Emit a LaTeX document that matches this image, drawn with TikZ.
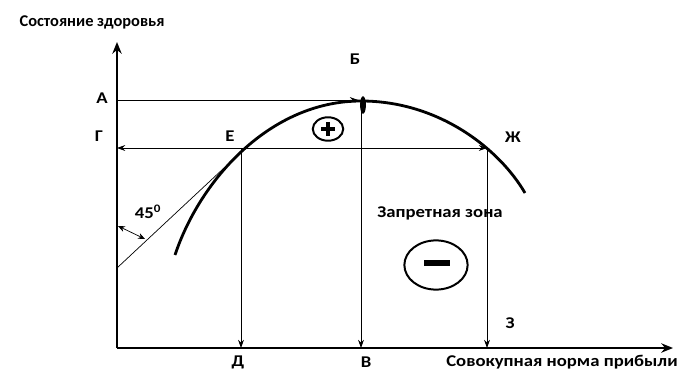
\documentclass[tikz,border=0pt]{standalone}
\usepackage{fontspec}
\setmainfont{Carlito}
\usetikzlibrary{positioning,arrows.meta}
\tikzset{
  lbl/.style={font=\bfseries\fontsize{14}{16}\selectfont,inner sep=0,xscale=1.14},
  ttl/.style={font=\bfseries\fontsize{14}{16}\selectfont,inner sep=0},
  axis/.style={line width=2.2pt,-{Stealth[length=10pt,width=8pt]}},
  thin/.style={line width=0.6pt},
}
\newcommand{\mpt}[3]{\coordinate (#3) at (#1,#2);}% x, y, name

\begin{document}
\begin{tikzpicture}[>={Stealth[length=7pt,width=5pt]},x=0.03cm,y=-0.03cm]
  \useasboundingbox (0,0) rectangle (678,371);
  % points
  \mpt{117}{348}{O}\mpt{117}{42}{ytop}\mpt{673}{348}{xend}
  \mpt{117}{100}{A}\mpt{358}{100}{B}\mpt{361}{101}{Btop}
  \mpt{117}{148}{G}\mpt{241}{148}{E}\mpt{487}{148}{Zh}
  \mpt{241}{348}{D}\mpt{361}{348}{V}\mpt{487}{348}{Z}
  \mpt{117}{268}{t0}\mpt{224}{168}{t1}
  \mpt{118}{226}{a0}\mpt{145}{239}{a1}
  % labels
  \node[ttl] (lS) at (92,22) {Состояние здоровья};
  \node[lbl] (lA) at (102,98) {А};
  \node[lbl] (lB) at (355,59) {Б};
  \node[lbl] (lG) at (99,136) {Г};
  \node[lbl] (lE) at (230,136) {Е};
  \node[lbl] (lZh) at (513,137) {Ж};
  \node[lbl] (l45) at (148,212) {45\textsuperscript{0}};
  \node[lbl] (lZ) at (510,323) {З};
  \node[lbl] (lD) at (238,362) {Д};
  \node[lbl] (lV) at (366,362) {В};
  \node[lbl] (lX) at (562,362) {Совокупная норма прибыли};
  \node[lbl] (lzone) at (440,213) {Запретная зона};
  % guide lines
  \draw[thin,->] (A) -- (B);
  \draw[thin,<->] (G) -- (Zh);
  \draw[thin,->] (E) -- (D);
  \draw[thin,->] (Btop) -- (V);
  \draw[thin,->] (Zh) -- (Z);
  \draw[thin] (t0) -- (t1);
  \draw[thin,{Stealth[length=6pt,width=5pt]}-{Stealth[length=6pt,width=5pt]}] (a0) -- (a1);
  % curve
  \draw[line width=2.4pt] (175,255) .. controls (200,180) and (270,101) .. (361,101)
    .. controls (440,101) and (500,150) .. (525,193);
  \fill (363,105) ellipse [x radius=2.5pt,y radius=7.5pt];
  % plus / minus
  \draw[line width=1.7pt] (328,129) ellipse [x radius=13pt,y radius=10pt];
  \draw[line width=3.5pt] (321,129) -- (335,129) (328,122) -- (328,136);
  \draw[line width=1.7pt] (436,265) ellipse [x radius=27pt,y radius=21pt];
  \draw[line width=4.5pt] (424,263) -- (450,263);
  % axes
  \draw[axis] (O) -- (ytop);
  \draw[axis] (O) -- (xend);
\end{tikzpicture}
\end{document}
